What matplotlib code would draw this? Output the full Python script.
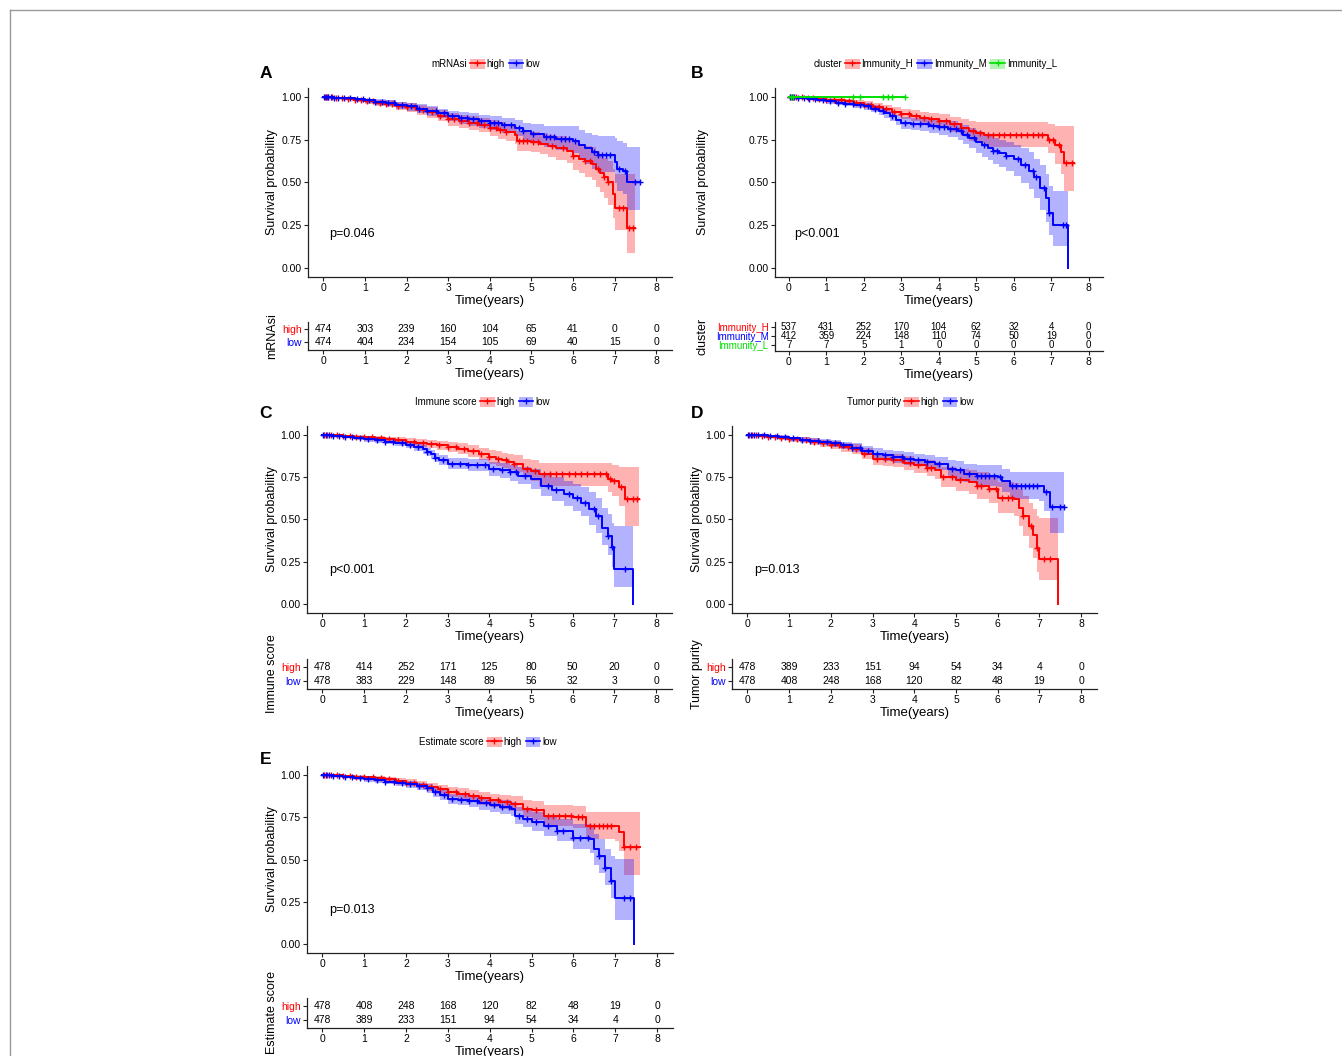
import numpy as np
import matplotlib
matplotlib.use("Agg")
import matplotlib.pyplot as plt
from matplotlib.lines import Line2D
from matplotlib.patches import Patch
from matplotlib.ticker import FormatStrFormatter

plt.rcParams['font.family'] = ['Liberation Sans', 'DejaVu Sans']

W, H = 1342, 1056
RED, BLUE, GREEN = '#FF0000', '#0000FF', '#00E000'

# ---------- A: mRNAsi ----------
a_high_t = [0, 0.25, 0.5, 0.75, 1.0, 1.25, 1.5, 1.75, 2.0, 2.25, 2.5, 2.75, 3.0, 3.25, 3.5, 3.75, 4.0, 4.2, 4.4, 4.6, 4.65, 5.0, 5.2, 5.4, 5.6, 5.85, 6.0, 6.15, 6.3, 6.45, 6.55, 6.65, 6.75, 6.85, 6.95, 7.0, 7.3, 7.5]
a_high_s = [1.0, 0.995, 0.99, 0.983, 0.975, 0.968, 0.96, 0.95, 0.94, 0.925, 0.91, 0.89, 0.87, 0.86, 0.85, 0.835, 0.82, 0.805, 0.795, 0.78, 0.74, 0.735, 0.725, 0.715, 0.70, 0.685, 0.655, 0.64, 0.625, 0.61, 0.58, 0.555, 0.53, 0.50, 0.43, 0.35, 0.235, 0.235]
a_high_lo = [1.0, 0.988, 0.98, 0.97, 0.96, 0.95, 0.94, 0.927, 0.915, 0.897, 0.88, 0.857, 0.833, 0.82, 0.81, 0.793, 0.775, 0.757, 0.745, 0.728, 0.685, 0.677, 0.665, 0.652, 0.633, 0.613, 0.575, 0.555, 0.535, 0.515, 0.475, 0.445, 0.41, 0.37, 0.29, 0.22, 0.09, 0.09]
a_high_hi = [1.0, 1.0, 1.0, 0.995, 0.99, 0.985, 0.98, 0.973, 0.965, 0.953, 0.94, 0.922, 0.905, 0.897, 0.89, 0.877, 0.865, 0.853, 0.845, 0.832, 0.80, 0.795, 0.787, 0.78, 0.77, 0.76, 0.74, 0.727, 0.716, 0.705, 0.685, 0.665, 0.645, 0.625, 0.58, 0.55, 0.55, 0.55]
a_high_cens = [0.03, 0.08, 0.12, 0.2, 0.3, 0.45, 0.6, 0.75, 0.9, 1.05, 1.2, 1.35, 1.5, 1.65, 1.8, 2.0, 2.2, 2.4,
               2.6, 2.8, 3.0, 3.15, 3.3, 3.5, 3.7, 3.85, 4.0, 4.15, 4.25, 4.4, 4.7, 4.8, 4.9, 5.05, 5.15, 5.5,
               5.75, 6.0, 6.3, 6.4, 6.6, 6.75, 6.85, 7.1, 7.2, 7.35, 7.45]
a_low_t = [0, 0.25, 0.5, 0.75, 1.0, 1.25, 1.5, 1.75, 2.0, 2.25, 2.5, 2.75, 3.0, 3.25, 3.5, 3.75, 4.0, 4.3, 4.6, 4.8, 5.0, 5.3, 5.6, 6.0, 6.15, 6.3, 6.45, 6.6, 7.0, 7.05, 7.2, 7.3, 7.6]
a_low_s = [1.0, 0.997, 0.995, 0.988, 0.98, 0.973, 0.965, 0.955, 0.945, 0.933, 0.92, 0.905, 0.89, 0.88, 0.87, 0.86, 0.85, 0.835, 0.82, 0.80, 0.785, 0.765, 0.755, 0.745, 0.72, 0.70, 0.68, 0.66, 0.62, 0.58, 0.57, 0.50, 0.50]
a_low_lo = [1.0, 0.99, 0.985, 0.975, 0.965, 0.955, 0.945, 0.933, 0.92, 0.905, 0.89, 0.875, 0.86, 0.845, 0.83, 0.82, 0.81, 0.79, 0.77, 0.745, 0.73, 0.71, 0.69, 0.67, 0.64, 0.61, 0.58, 0.56, 0.50, 0.45, 0.43, 0.34, 0.34]
a_low_hi = [1.0, 1.0, 1.0, 0.997, 0.99, 0.987, 0.98, 0.973, 0.965, 0.957, 0.945, 0.933, 0.92, 0.912, 0.905, 0.897, 0.89, 0.877, 0.865, 0.85, 0.84, 0.83, 0.83, 0.83, 0.81, 0.79, 0.78, 0.77, 0.76, 0.74, 0.73, 0.71, 0.71]
a_low_cens = [0.02, 0.06, 0.1, 0.18, 0.25, 0.35, 0.5, 0.65, 0.8, 0.95, 1.1, 1.25, 1.4, 1.55, 1.7, 1.9, 2.1, 2.3,
              2.5, 2.7, 2.9, 3.1, 3.3, 3.45, 3.6, 3.8, 4.0, 4.1, 4.2, 4.35, 4.5, 4.7, 4.8, 5.05, 5.35, 5.45,
              5.55, 5.7, 5.8, 5.9, 6.05, 6.5, 6.6, 6.7, 6.8, 6.9, 7.1, 7.25, 7.5, 7.6]

# ---------- B: cluster ----------
b_h_t = [0, 0.25, 0.5, 0.75, 1.0, 1.25, 1.5, 1.75, 2.0, 2.25, 2.5, 2.75, 3.0, 3.25, 3.5, 3.75, 4.0, 4.3, 4.6, 4.8, 5.0, 5.2, 6.8, 6.9, 7.1, 7.25, 7.35, 7.6]
b_h_s = [1.0, 0.998, 0.995, 0.99, 0.985, 0.98, 0.975, 0.965, 0.955, 0.943, 0.93, 0.915, 0.90, 0.89, 0.88, 0.87, 0.86, 0.84, 0.82, 0.80, 0.79, 0.78, 0.78, 0.75, 0.72, 0.68, 0.615, 0.615]
b_h_lo = [1.0, 0.99, 0.985, 0.98, 0.975, 0.968, 0.96, 0.948, 0.935, 0.92, 0.905, 0.888, 0.87, 0.858, 0.845, 0.833, 0.82, 0.795, 0.77, 0.745, 0.73, 0.71, 0.71, 0.67, 0.61, 0.55, 0.45, 0.45]
b_h_hi = [1.0, 1.0, 1.0, 0.998, 0.995, 0.993, 0.99, 0.983, 0.975, 0.965, 0.955, 0.943, 0.93, 0.922, 0.915, 0.907, 0.90, 0.885, 0.87, 0.86, 0.855, 0.855, 0.855, 0.84, 0.83, 0.83, 0.83, 0.83]
b_h_cens = [0.03, 0.1, 0.2, 0.35, 0.5, 0.65, 0.8, 1.0, 1.2, 1.4, 1.6, 1.8, 2.0, 2.2, 2.4, 2.6, 2.8, 3.0, 3.2, 3.4,
            3.6, 3.8, 4.0, 4.2, 4.4, 4.6, 4.9, 5.1, 5.3, 5.45, 5.6, 5.75, 5.9, 6.05, 6.2, 6.35, 6.5, 6.65, 6.75,
            6.95, 7.05, 7.2, 7.4, 7.55]
b_m_t = [0, 0.25, 0.5, 0.75, 1.0, 1.25, 1.5, 1.75, 2.0, 2.2, 2.4, 2.55, 2.7, 2.85, 3.0, 3.25, 3.5, 3.75, 4.0, 4.25, 4.5, 4.65, 4.8, 5.0, 5.15, 5.3, 5.45, 5.6, 5.8, 6.0, 6.2, 6.4, 6.55, 6.7, 6.85, 6.95, 7.05, 7.45]
b_m_s = [1.0, 0.995, 0.99, 0.983, 0.975, 0.968, 0.96, 0.953, 0.945, 0.933, 0.92, 0.905, 0.89, 0.865, 0.85, 0.845, 0.84, 0.833, 0.825, 0.813, 0.80, 0.78, 0.76, 0.735, 0.718, 0.70, 0.685, 0.67, 0.653, 0.635, 0.60, 0.57, 0.53, 0.47, 0.41, 0.32, 0.25, 0.0]
b_m_lo = [1.0, 0.988, 0.98, 0.97, 0.96, 0.952, 0.945, 0.935, 0.925, 0.91, 0.895, 0.878, 0.86, 0.835, 0.815, 0.808, 0.80, 0.79, 0.78, 0.765, 0.75, 0.725, 0.70, 0.67, 0.65, 0.63, 0.61, 0.59, 0.565, 0.54, 0.50, 0.46, 0.41, 0.34, 0.27, 0.19, 0.13, 0.13]
b_m_hi = [1.0, 1.0, 1.0, 0.995, 0.99, 0.985, 0.98, 0.973, 0.965, 0.955, 0.945, 0.933, 0.92, 0.895, 0.885, 0.88, 0.875, 0.87, 0.865, 0.858, 0.85, 0.835, 0.82, 0.80, 0.785, 0.77, 0.76, 0.75, 0.735, 0.72, 0.70, 0.68, 0.64, 0.60, 0.55, 0.48, 0.45, 0.45]
b_m_cens = [0.02, 0.08, 0.15, 0.25, 0.4, 0.55, 0.7, 0.9, 1.1, 1.3, 1.5, 1.7, 1.9, 2.1, 2.3, 2.5, 2.75, 3.1, 3.3,
            3.5, 3.7, 3.85, 4.0, 4.15, 4.3, 4.45, 4.6, 4.75, 4.95, 5.2, 5.45, 5.55, 5.8, 6.1, 6.3, 6.5, 6.6,
            6.8, 6.95, 7.3, 7.4]
b_l_t = [0, 3.1]
b_l_s = [1.0, 1.0]
b_l_cens = [0.05, 0.1, 1.7, 1.9, 2.5, 2.65, 2.75, 3.1]

# ---------- C: Immune score ----------
c_high_t = [0, 0.25, 0.5, 0.75, 1.0, 1.25, 1.5, 1.75, 2.0, 2.25, 2.5, 2.75, 3.0, 3.25, 3.5, 3.75, 4.0, 4.15, 4.3, 4.45, 4.6, 4.8, 5.0, 5.2, 6.85, 6.95, 7.1, 7.25, 7.6]
c_high_s = [1.0, 0.998, 0.995, 0.99, 0.985, 0.98, 0.975, 0.968, 0.96, 0.953, 0.945, 0.938, 0.93, 0.918, 0.905, 0.888, 0.87, 0.86, 0.85, 0.84, 0.83, 0.80, 0.785, 0.77, 0.74, 0.73, 0.69, 0.62, 0.62]
c_high_lo = [1.0, 0.99, 0.985, 0.98, 0.975, 0.968, 0.96, 0.95, 0.94, 0.93, 0.92, 0.91, 0.90, 0.885, 0.87, 0.85, 0.83, 0.818, 0.805, 0.793, 0.78, 0.75, 0.73, 0.70, 0.66, 0.64, 0.58, 0.46, 0.46]
c_high_hi = [1.0, 1.0, 1.0, 0.998, 0.995, 0.993, 0.99, 0.985, 0.98, 0.975, 0.97, 0.965, 0.96, 0.95, 0.94, 0.925, 0.91, 0.903, 0.895, 0.888, 0.88, 0.86, 0.85, 0.835, 0.835, 0.82, 0.81, 0.81, 0.81]
c_high_cens = [0.03, 0.1, 0.2, 0.35, 0.5, 0.65, 0.8, 1.0, 1.2, 1.4, 1.6, 1.8, 2.0, 2.2, 2.4, 2.6, 2.8, 3.0, 3.2,
               3.4, 3.6, 3.8, 4.0, 4.2, 4.4, 4.6, 4.9, 5.1, 5.3, 5.45, 5.6, 5.75, 5.9, 6.05, 6.2, 6.35, 6.5,
               6.65, 6.8, 6.9, 7.0, 7.15, 7.3, 7.45, 7.55]
c_low_t = [0, 0.25, 0.5, 0.75, 1.0, 1.25, 1.5, 1.75, 2.0, 2.2, 2.4, 2.5, 2.6, 2.7, 2.8, 3.0, 3.5, 4.0, 4.25, 4.5, 4.7, 5.0, 5.25, 5.5, 5.8, 6.0, 6.2, 6.4, 6.55, 6.7, 6.85, 6.95, 7.0, 7.45]
c_low_s = [1.0, 0.995, 0.99, 0.983, 0.975, 0.968, 0.96, 0.95, 0.94, 0.928, 0.915, 0.90, 0.885, 0.865, 0.85, 0.83, 0.82, 0.80, 0.79, 0.78, 0.76, 0.74, 0.70, 0.675, 0.65, 0.625, 0.60, 0.56, 0.52, 0.45, 0.40, 0.34, 0.21, 0.0]
c_low_lo = [1.0, 0.988, 0.98, 0.97, 0.96, 0.952, 0.945, 0.932, 0.92, 0.905, 0.89, 0.875, 0.86, 0.838, 0.82, 0.80, 0.785, 0.76, 0.745, 0.73, 0.71, 0.68, 0.64, 0.61, 0.58, 0.55, 0.52, 0.47, 0.42, 0.35, 0.29, 0.22, 0.10, 0.10]
c_low_hi = [1.0, 1.0, 1.0, 0.995, 0.99, 0.985, 0.98, 0.97, 0.96, 0.95, 0.94, 0.925, 0.91, 0.893, 0.88, 0.865, 0.855, 0.84, 0.833, 0.825, 0.81, 0.80, 0.77, 0.75, 0.73, 0.71, 0.69, 0.66, 0.63, 0.57, 0.53, 0.48, 0.46, 0.46]
c_low_cens = [0.02, 0.08, 0.15, 0.25, 0.4, 0.55, 0.7, 0.9, 1.1, 1.3, 1.5, 1.7, 1.9, 2.1, 2.3, 2.5, 2.7, 2.9, 3.1,
              3.3, 3.5, 3.7, 3.9, 4.1, 4.3, 4.5, 4.65, 4.85, 5.4, 5.6, 5.9, 6.1, 6.3, 6.5, 6.6, 6.85, 6.95, 7.25]

# ---------- D: Tumor purity ----------
d_high_t = [0, 0.25, 0.5, 0.75, 1.0, 1.25, 1.5, 1.75, 2.0, 2.25, 2.5, 2.75, 3.0, 3.25, 3.5, 3.75, 4.0, 4.3, 4.5, 4.65, 5.0, 5.3, 5.5, 5.8, 6.0, 6.4, 6.5, 6.6, 6.75, 6.85, 6.95, 7.0, 7.45]
d_high_s = [1.0, 0.995, 0.99, 0.983, 0.975, 0.968, 0.96, 0.95, 0.94, 0.928, 0.915, 0.89, 0.86, 0.855, 0.85, 0.835, 0.82, 0.805, 0.79, 0.75, 0.735, 0.72, 0.70, 0.68, 0.63, 0.62, 0.57, 0.52, 0.46, 0.41, 0.33, 0.265, 0.0]
d_high_lo = [1.0, 0.988, 0.98, 0.97, 0.96, 0.95, 0.94, 0.928, 0.915, 0.90, 0.885, 0.857, 0.825, 0.818, 0.81, 0.793, 0.775, 0.76, 0.74, 0.69, 0.67, 0.65, 0.62, 0.60, 0.54, 0.52, 0.46, 0.40, 0.33, 0.27, 0.19, 0.14, 0.14]
d_high_hi = [1.0, 1.0, 1.0, 0.995, 0.99, 0.985, 0.98, 0.973, 0.965, 0.955, 0.945, 0.922, 0.895, 0.89, 0.885, 0.873, 0.86, 0.85, 0.84, 0.81, 0.80, 0.79, 0.78, 0.76, 0.72, 0.715, 0.68, 0.64, 0.60, 0.56, 0.52, 0.51, 0.51]
d_high_cens = [0.03, 0.1, 0.2, 0.35, 0.5, 0.65, 0.8, 1.0, 1.2, 1.4, 1.6, 1.8, 2.0, 2.2, 2.4, 2.6, 2.8, 3.1, 3.3,
               3.5, 3.7, 3.9, 4.1, 4.3, 4.4, 4.7, 4.9, 5.1, 5.5, 5.6, 5.8, 5.95, 6.1, 6.25, 6.35, 6.6, 6.8,
               6.95, 7.1, 7.25]
d_low_t = [0, 0.25, 0.5, 0.75, 1.0, 1.25, 1.5, 1.75, 2.0, 2.25, 2.5, 2.75, 3.0, 3.25, 3.5, 3.75, 4.0, 4.25, 4.5, 4.8, 5.0, 5.2, 5.5, 6.0, 6.1, 6.3, 7.0, 7.1, 7.25, 7.6]
d_low_s = [1.0, 0.998, 0.995, 0.988, 0.98, 0.973, 0.965, 0.958, 0.95, 0.938, 0.925, 0.908, 0.89, 0.88, 0.87, 0.86, 0.85, 0.84, 0.83, 0.80, 0.79, 0.77, 0.755, 0.75, 0.73, 0.70, 0.70, 0.66, 0.575, 0.575]
d_low_lo = [1.0, 0.99, 0.985, 0.975, 0.965, 0.958, 0.95, 0.94, 0.93, 0.915, 0.90, 0.88, 0.86, 0.848, 0.835, 0.825, 0.815, 0.803, 0.79, 0.755, 0.74, 0.72, 0.70, 0.69, 0.66, 0.62, 0.61, 0.55, 0.42, 0.42]
d_low_hi = [1.0, 1.0, 1.0, 0.998, 0.99, 0.985, 0.98, 0.975, 0.97, 0.96, 0.95, 0.935, 0.92, 0.913, 0.905, 0.898, 0.89, 0.88, 0.87, 0.85, 0.845, 0.83, 0.82, 0.82, 0.80, 0.78, 0.78, 0.78, 0.78, 0.78]
d_low_cens = [0.02, 0.08, 0.15, 0.25, 0.4, 0.55, 0.7, 0.9, 1.1, 1.3, 1.5, 1.7, 1.9, 2.1, 2.3, 2.5, 2.7, 2.9, 3.1,
              3.3, 3.5, 3.7, 3.9, 4.1, 4.3, 4.6, 4.9, 5.1, 5.3, 5.5, 5.6, 5.7, 5.8, 5.9, 6.05, 6.35, 6.45,
              6.55, 6.65, 6.75, 6.85, 6.95, 7.15, 7.3, 7.5, 7.6]

# ---------- E: Estimate score ----------
e_high_t = [0, 0.25, 0.5, 0.75, 1.0, 1.25, 1.5, 1.75, 2.0, 2.25, 2.5, 2.75, 3.0, 3.25, 3.5, 3.75, 4.0, 4.25, 4.5, 4.8, 5.0, 5.3, 6.0, 6.3, 7.0, 7.1, 7.2, 7.6]
e_high_s = [1.0, 0.998, 0.995, 0.99, 0.985, 0.98, 0.975, 0.965, 0.955, 0.943, 0.93, 0.915, 0.90, 0.888, 0.875, 0.863, 0.85, 0.84, 0.83, 0.80, 0.79, 0.76, 0.75, 0.70, 0.70, 0.665, 0.575, 0.575]
e_high_lo = [1.0, 0.99, 0.985, 0.98, 0.975, 0.968, 0.96, 0.948, 0.935, 0.92, 0.905, 0.888, 0.87, 0.855, 0.84, 0.825, 0.81, 0.798, 0.785, 0.75, 0.735, 0.70, 0.685, 0.62, 0.61, 0.55, 0.41, 0.41]
e_high_hi = [1.0, 1.0, 1.0, 0.998, 0.995, 0.993, 0.99, 0.983, 0.975, 0.965, 0.955, 0.943, 0.93, 0.92, 0.91, 0.90, 0.89, 0.883, 0.875, 0.85, 0.845, 0.82, 0.815, 0.78, 0.78, 0.78, 0.78, 0.78]
e_high_cens = [0.03, 0.1, 0.2, 0.35, 0.5, 0.65, 0.8, 1.0, 1.2, 1.4, 1.6, 1.8, 2.0, 2.2, 2.4, 2.6, 2.8, 3.0, 3.2,
               3.4, 3.6, 3.8, 4.0, 4.2, 4.4, 4.6, 4.9, 5.1, 5.4, 5.5, 5.65, 5.8, 5.95, 6.1, 6.2, 6.4, 6.5, 6.6,
               6.7, 6.8, 6.9, 7.2, 7.35, 7.5]
e_low_t = [0, 0.25, 0.5, 0.75, 1.0, 1.25, 1.5, 1.75, 2.0, 2.25, 2.5, 2.65, 2.8, 3.0, 3.25, 3.5, 3.75, 4.0, 4.25, 4.5, 4.6, 4.8, 5.0, 5.3, 5.6, 6.0, 6.4, 6.5, 6.6, 6.75, 6.9, 7.0, 7.45]
e_low_s = [1.0, 0.995, 0.99, 0.983, 0.975, 0.968, 0.96, 0.953, 0.945, 0.933, 0.92, 0.90, 0.88, 0.86, 0.853, 0.845, 0.833, 0.82, 0.81, 0.80, 0.76, 0.74, 0.72, 0.70, 0.67, 0.63, 0.62, 0.56, 0.52, 0.45, 0.37, 0.27, 0.0]
e_low_lo = [1.0, 0.988, 0.98, 0.97, 0.96, 0.952, 0.945, 0.935, 0.925, 0.91, 0.895, 0.872, 0.85, 0.83, 0.82, 0.81, 0.795, 0.78, 0.77, 0.76, 0.71, 0.69, 0.67, 0.64, 0.61, 0.56, 0.54, 0.47, 0.42, 0.35, 0.27, 0.14, 0.14]
e_low_hi = [1.0, 1.0, 1.0, 0.995, 0.99, 0.985, 0.98, 0.973, 0.965, 0.955, 0.945, 0.928, 0.91, 0.89, 0.885, 0.88, 0.87, 0.86, 0.85, 0.84, 0.81, 0.795, 0.78, 0.76, 0.74, 0.71, 0.70, 0.65, 0.62, 0.56, 0.52, 0.50, 0.50]
e_low_cens = [0.02, 0.08, 0.15, 0.25, 0.4, 0.55, 0.7, 0.9, 1.1, 1.3, 1.5, 1.7, 1.9, 2.1, 2.3, 2.5, 2.7, 2.9, 3.1,
              3.3, 3.5, 3.7, 3.9, 4.1, 4.3, 4.45, 4.7, 4.9, 5.1, 5.4, 5.6, 5.75, 6.0, 6.15, 6.35, 6.6, 6.75,
              6.9, 7.2, 7.35]

# ---------- numbers at risk ----------
risk_times = [0, 1, 2, 3, 4, 5, 6, 7, 8]
a_risk_high = [474, 303, 239, 160, 104, 65, 41, 0, 0]
a_risk_low = [474, 404, 234, 154, 105, 69, 40, 15, 0]
b_risk_h = [537, 431, 252, 170, 104, 62, 32, 4, 0]
b_risk_m = [412, 359, 224, 148, 110, 74, 50, 19, 0]
b_risk_l = [7, 7, 5, 1, 0, 0, 0, 0, 0]
c_risk_high = [478, 414, 252, 171, 125, 80, 50, 20, 0]
c_risk_low = [478, 383, 229, 148, 89, 56, 32, 3, 0]
d_risk_high = [478, 389, 233, 151, 94, 54, 34, 4, 0]
d_risk_low = [478, 408, 248, 168, 120, 82, 48, 19, 0]
e_risk_high = [478, 408, 248, 168, 120, 82, 48, 19, 0]
e_risk_low = [478, 389, 233, 151, 94, 54, 34, 4, 0]


def box(l, t, r, b):
    # pixel box -> figure fraction
    return [l / W, 1 - b / H, (r - l) / W, (b - t) / H]


def style_axis(ax):
    for s in ['top', 'right']:
        ax.spines[s].set_visible(False)
    for s in ['left', 'bottom']:
        ax.spines[s].set_linewidth(0.9)
        ax.spines[s].set_color('#222222')
    ax.tick_params(length=3, width=0.8, pad=1.5, labelsize=7.5, color='#222222')
    ax.set_xticks(risk_times)


def put_ylabel(fig, ax, text, x_px, pbox):
    # y label centred at a fixed pixel column (ggsurvplot aligns them per column)
    ax.set_ylabel(text, fontsize=9, va='center', rotation_mode='default')
    y_mid = 1 - (pbox[1] + pbox[3]) / 2 / H
    ax.yaxis.set_label_coords(x_px / W, y_mid, transform=fig.transFigure)


def draw_panel(fig, letter, letter_xy, km_box, tab_box, curves, strata_title, tab_title, p_text,
               risk_rows, legend_x, legend_y, tab_ylim, ylab_x, tab_fs=7.5):
    ax = fig.add_axes(box(*km_box))
    for c in curves:
        t = np.array(c['t'])
        s = np.array(c['s'])
        if c.get('lo') is not None:
            ax.fill_between(t, c['lo'], c['hi'], step='post', color=c['col'], alpha=0.3, lw=0)
        ax.step(t, s, where='post', color=c['col'], lw=1.4)
        cens = np.array(c['cens'])
        idx = np.searchsorted(t, cens, side='right') - 1
        ax.plot(cens, s[idx], ls='none', marker='+', color=c['col'], ms=5, mew=1.0)
    ax.set_xlim(-0.37, 8.38)
    ax.set_ylim(-0.053, 1.053)
    ax.set_yticks([0, 0.25, 0.5, 0.75, 1.0])
    ax.yaxis.set_major_formatter(FormatStrFormatter('%.2f'))
    style_axis(ax)
    ax.set_xlabel('Time(years)', fontsize=9.5, labelpad=1)
    put_ylabel(fig, ax, 'Survival probability', ylab_x, km_box)
    ax.text(0.15, 0.2, p_text, fontsize=9, ha='left', va='center')

    # panel letter
    fig.text(letter_xy[0] / W, 1 - letter_xy[1] / H, letter, fontsize=12.5,
             fontweight='bold', ha='center', va='center')

    # legend (title on the left)
    fig.text(legend_x / W, 1 - legend_y / H, strata_title, fontsize=7, ha='right', va='center')
    handles = [(Patch(facecolor=c['col'], alpha=0.3, edgecolor='none'),
                Line2D([], [], color=c['col'], lw=1.2, marker='+', ms=5, mew=0.9)) for c in curves]
    labels = [c['name'] for c in curves]
    ax.legend(handles, labels, loc='center left', bbox_to_anchor=((legend_x + 3) / W, 1 - legend_y / H),
              bbox_transform=fig.transFigure, ncol=len(curves), frameon=False, fontsize=7,
              handlelength=1.5, handleheight=1.3, handletextpad=0.2, columnspacing=0.4,
              borderpad=0, borderaxespad=0)

    # risk table
    tx = fig.add_axes(box(*tab_box))
    n = len(risk_rows)
    ys = list(range(n, 0, -1))
    for (name, col, vals), y in zip(risk_rows, ys):
        for t, v in zip(risk_times, vals):
            tx.text(t, y, str(v), ha='center', va='center', fontsize=tab_fs)
    tx.set_xlim(-0.37, 8.38)
    tx.set_ylim(*tab_ylim)
    style_axis(tx)
    tx.set_yticks(ys)
    tx.set_yticklabels([r[0] for r in risk_rows], fontsize=tab_fs)
    for lab, r in zip(tx.get_yticklabels(), risk_rows):
        lab.set_color(r[1])
    tx.set_xlabel('Time(years)', fontsize=9.5, labelpad=1)
    put_ylabel(fig, tx, tab_title, ylab_x, tab_box)


fig = plt.figure(figsize=(W / 100, H / 100), dpi=100)
fig.patch.set_facecolor('white')

# page frame
fig.add_artist(Line2D([10 / W, 1], [1 - 10 / H, 1 - 10 / H], color='#999999', lw=1))
fig.add_artist(Line2D([10 / W, 10 / W], [0, 1 - 10 / H], color='#999999', lw=1))

# A
draw_panel(fig, 'A', (266, 74), (308, 88, 672, 277), (308, 322, 672, 350),
           [dict(name='high', col=RED, t=a_high_t, s=a_high_s, lo=a_high_lo, hi=a_high_hi, cens=a_high_cens),
            dict(name='low', col=BLUE, t=a_low_t, s=a_low_s, lo=a_low_lo, hi=a_low_hi, cens=a_low_cens)],
           'mRNAsi', 'mRNAsi', 'p=0.046',
           [('high', RED, a_risk_high), ('low', BLUE, a_risk_low)],
           467, 64, (0.4, 2.55), 272)

# B
draw_panel(fig, 'B', (697, 74), (775, 88, 1103, 277), (775, 322, 1103, 351),
           [dict(name='Immunity_H', col=RED, t=b_h_t, s=b_h_s, lo=b_h_lo, hi=b_h_hi, cens=b_h_cens),
            dict(name='Immunity_M', col=BLUE, t=b_m_t, s=b_m_s, lo=b_m_lo, hi=b_m_hi, cens=b_m_cens),
            dict(name='Immunity_L', col=GREEN, t=b_l_t, s=b_l_s, lo=None, hi=None, cens=b_l_cens)],
           'cluster', 'cluster', 'p<0.001',
           [('Immunity_H', RED, b_risk_h), ('Immunity_M', BLUE, b_risk_m), ('Immunity_L', GREEN, b_risk_l)],
           842, 64, (0.33, 3.56), 703, tab_fs=7)

# C
draw_panel(fig, 'C', (266, 414), (307, 426, 672, 613), (307, 659, 672, 689),
           [dict(name='high', col=RED, t=c_high_t, s=c_high_s, lo=c_high_lo, hi=c_high_hi, cens=c_high_cens),
            dict(name='low', col=BLUE, t=c_low_t, s=c_low_s, lo=c_low_lo, hi=c_low_hi, cens=c_low_cens)],
           'Immune score', 'Immune score', 'p<0.001',
           [('high', RED, c_risk_high), ('low', BLUE, c_risk_low)],
           477, 402, (0.42, 2.57), 272)

# D
draw_panel(fig, 'D', (697, 414), (732, 426, 1097, 613), (732, 659, 1097, 689),
           [dict(name='high', col=RED, t=d_high_t, s=d_high_s, lo=d_high_lo, hi=d_high_hi, cens=d_high_cens),
            dict(name='low', col=BLUE, t=d_low_t, s=d_low_s, lo=d_low_lo, hi=d_low_hi, cens=d_low_cens)],
           'Tumor purity', 'Tumor purity', 'p=0.013',
           [('high', RED, d_risk_high), ('low', BLUE, d_risk_low)],
           901, 402, (0.42, 2.57), 697)

# E
draw_panel(fig, 'E', (266, 759), (307, 766, 673, 953), (307, 998, 673, 1028),
           [dict(name='high', col=RED, t=e_high_t, s=e_high_s, lo=e_high_lo, hi=e_high_hi, cens=e_high_cens),
            dict(name='low', col=BLUE, t=e_low_t, s=e_low_s, lo=e_low_lo, hi=e_low_hi, cens=e_low_cens)],
           'Estimate score', 'Estimate score', 'p=0.013',
           [('high', RED, e_risk_high), ('low', BLUE, e_risk_low)],
           484, 742, (0.4, 2.6), 272)

fig.savefig('out.png', dpi=100)
